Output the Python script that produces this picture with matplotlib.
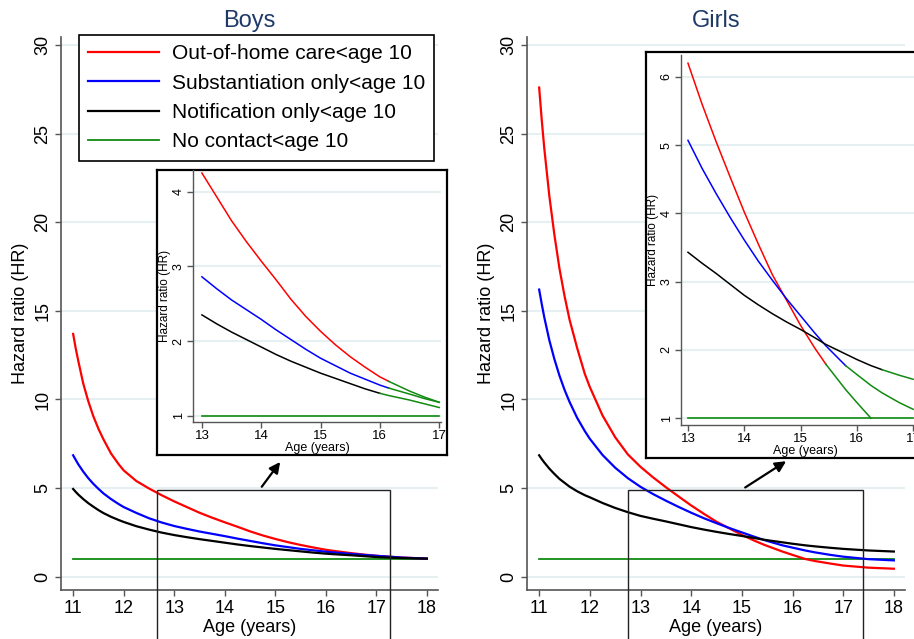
import numpy as np
import matplotlib.pyplot as plt
from matplotlib.patches import Rectangle

plt.rcParams['font.family'] = ['Liberation Sans', 'DejaVu Sans']

# ---- data ----
boys_age = [11, 11.05, 11.1, 11.2, 11.3, 11.4, 11.5, 11.6, 11.75, 11.9, 12, 12.25, 12.5, 12.75,
            13, 13.25, 13.5, 13.75, 14, 14.25, 14.5, 14.75, 15, 15.25, 15.5, 15.75, 16, 16.15,
            16.5, 16.75, 17, 17.5, 18]
boys_care = [13.7, 12.9, 12.2, 10.9, 9.9, 9.05, 8.35, 7.75, 6.95, 6.35, 6.0, 5.4, 4.98, 4.6,
             4.25, 3.93, 3.61, 3.33, 3.07, 2.82, 2.56, 2.33, 2.13, 1.95, 1.79, 1.65, 1.52, 1.46,
             1.33, 1.25, 1.18, 1.08, 1.02]
boys_subst = [6.85, 6.6, 6.35, 5.93, 5.56, 5.24, 4.96, 4.7, 4.38, 4.1, 3.93, 3.6, 3.3, 3.06,
              2.86, 2.7, 2.55, 2.42, 2.29, 2.15, 2.02, 1.89, 1.77, 1.67, 1.57, 1.49, 1.41, 1.37,
              1.29, 1.23, 1.18, 1.08, 1.02]
boys_notif = [4.95, 4.79, 4.64, 4.38, 4.15, 3.95, 3.76, 3.59, 3.38, 3.2, 3.09, 2.85, 2.66, 2.49,
              2.35, 2.23, 2.12, 2.02, 1.92, 1.82, 1.73, 1.65, 1.57, 1.5, 1.43, 1.36, 1.30, 1.27,
              1.21, 1.16, 1.11, 1.05, 1.02]

girls_age = [11, 11.05, 11.1, 11.2, 11.3, 11.4, 11.5, 11.6, 11.75, 11.9, 12, 12.25, 12.5, 12.75,
             13, 13.25, 13.5, 13.75, 14, 14.25, 14.5, 14.75, 15, 15.25, 15.45, 15.8, 16, 16.25,
             16.45, 16.75, 17, 17.5, 18]
girls_care = [27.6, 25.8, 24.2, 21.5, 19.3, 17.4, 15.85, 14.5, 12.9, 11.45, 10.7, 9.1, 7.87, 6.9,
              6.2, 5.6, 5.05, 4.53, 4.02, 3.55, 3.1, 2.73, 2.36, 2.03, 1.79, 1.42, 1.23, 1.0,
              0.88, 0.74, 0.63, 0.51, 0.45]
girls_subst = [16.2, 15.4, 14.65, 13.35, 12.28, 11.35, 10.55, 9.86, 8.96, 8.22, 7.78, 6.87, 6.15,
               5.56, 5.07, 4.66, 4.29, 3.94, 3.61, 3.3, 3.02, 2.75, 2.5, 2.25, 2.06, 1.77, 1.64,
               1.48, 1.37, 1.23, 1.13, 0.99, 0.92]
girls_notif = [6.85, 6.64, 6.45, 6.1, 5.8, 5.52, 5.3, 5.08, 4.82, 4.6, 4.48, 4.16, 3.88, 3.64,
               3.43, 3.27, 3.12, 2.96, 2.8, 2.66, 2.53, 2.41, 2.3, 2.18, 2.08, 1.94, 1.86, 1.77,
               1.71, 1.63, 1.57, 1.48, 1.42]

labels = ['Out-of-home care<age 10', 'Substantiation only<age 10',
          'Notification only<age 10', 'No contact<age 10']
colors = ['#ff0000', '#0000ff', '#000000', '#108a10']

# age where the inset curve turns green (not significant), and where it stops
boys_switch = [16.15, 16.15, 16.0]
boys_stop = [17, 17, 17]
girls_switch = [15.45, 15.8, 16.45]
girls_stop = [16.25, 17, 17]

W, H = 914, 639
fig = plt.figure(figsize=(W / 100, H / 100), dpi=100)
GRID = '#e6f0f2'
SPINE = '#555555'


def px_axes(x0, y0, x1, y1):
    return fig.add_axes([x0 / W, 1 - y1 / H, (x1 - x0) / W, (y1 - y0) / H])


def style(ax, fs, lw=1.2, pad=3):
    for s in ['top', 'right']:
        ax.spines[s].set_visible(False)
    for s in ['left', 'bottom']:
        ax.spines[s].set_color(SPINE)
        ax.spines[s].set_linewidth(lw)
    ax.tick_params(direction='out', length=4, width=1, color=SPINE, labelsize=fs, pad=pad)
    ax.tick_params(axis='y', labelrotation=90)
    for t in ax.get_yticklabels():
        t.set_va('center')
    ax.yaxis.grid(True, color=GRID, lw=1.5)
    ax.set_axisbelow(True)


def main_panel(box, title, age, series, rect, arrow):
    ax = px_axes(*box)
    ax.plot([age[0], age[-1]], [1, 1], color=colors[3], lw=1.3, label=labels[3])
    for vals, c, lab in zip(series, colors[:3], labels[:3]):
        ax.plot(age, vals, color=c, lw=1.6, label=lab)
    ax.set_xlim(10.76, 18.22)
    ax.set_ylim(-0.75, 30.45)
    ax.set_xticks(range(11, 19))
    ax.set_yticks(range(0, 31, 5))
    style(ax, 13)
    ax.set_xlabel('Age (years)', fontsize=13, labelpad=2)
    ax.set_ylabel('Hazard ratio (HR)', fontsize=13, labelpad=4)
    ax.set_title(title, fontsize=17, color='#1f3a68', pad=7)
    x0, x1, ytop = rect
    ax.add_patch(Rectangle((x0, -5), x1 - x0, ytop + 5, fill=False, ec='#222222',
                           lw=1.0, clip_on=False, zorder=5))
    ax.annotate('', xy=arrow[1], xytext=arrow[0], annotation_clip=False,
                arrowprops=dict(arrowstyle='-|>', color='black', lw=1.6, mutation_scale=16))
    return ax


def inset_panel(frame, box, age, series, switch, stop, xlim, ylim, yticks):
    fr = px_axes(*frame)
    fr.set_xticks([])
    fr.set_yticks([])
    for s in fr.spines.values():
        s.set_linewidth(1.6)
        s.set_color('black')
    ax = px_axes(*box)
    ax.patch.set_alpha(0)
    age = np.array(age)
    ax.plot([13, 17], [1, 1], color=colors[3], lw=1.2)
    for vals, c, sw, st in zip(series, colors[:3], switch, stop):
        vals = np.array(vals)
        m1 = (age >= 13) & (age <= sw)
        m2 = (age >= sw) & (age <= st)
        ax.plot(age[m1], vals[m1], color=c, lw=1.1)
        ax.plot(age[m2], vals[m2], color=colors[3], lw=1.1)
    ax.set_xlim(*xlim)
    ax.set_ylim(*ylim)
    ax.set_xticks(range(13, 18))
    ax.set_yticks(yticks)
    style(ax, 9, lw=1.0, pad=2)
    ax.tick_params(labelsize=9.5, axis='x')
    ax.set_xlabel('Age (years)', fontsize=9, labelpad=0)
    ax.set_ylabel('Hazard ratio (HR)', fontsize=8.5, labelpad=1)
    return ax


ax_b = main_panel((61, 37, 438, 590), 'Boys', boys_age,
                  [boys_care, boys_subst, boys_notif],
                  (12.66, 17.27, 4.9), ((14.70, 4.95), (15.13, 6.6)))
ax_g = main_panel((527, 37, 905, 590), 'Girls', girls_age,
                  [girls_care, girls_subst, girls_notif],
                  (12.745, 17.385, 4.9), ((15.02, 4.95), (15.92, 6.6)))

h, l = ax_b.get_legend_handles_labels()
order = [1, 2, 3, 0]
leg = ax_b.legend([h[i] for i in order], [l[i] for i in order], loc='upper left',
                  bbox_to_anchor=(0.048, 1.004), borderaxespad=0, fontsize=15,
                  fancybox=False, edgecolor='black', framealpha=1, handlelength=3.4,
                  handletextpad=0.6, labelspacing=0.5, borderpad=0.45)
leg.get_frame().set_linewidth(1.2)
leg.set_zorder(10)

inset_panel((157, 170, 447, 455), (193, 170, 441, 422), boys_age,
            [boys_care, boys_subst, boys_notif], boys_switch, boys_stop,
            (12.85, 17.03), (0.916, 4.29), [1, 2, 3, 4])
inset_panel((646, 52, 930, 458), (681, 55, 930, 425), girls_age,
            [girls_care, girls_subst, girls_notif], girls_switch, girls_stop,
            (12.876, 17.3), (0.90, 6.32), [1, 2, 3, 4, 5, 6])

fig.savefig('out.png', dpi=100)
